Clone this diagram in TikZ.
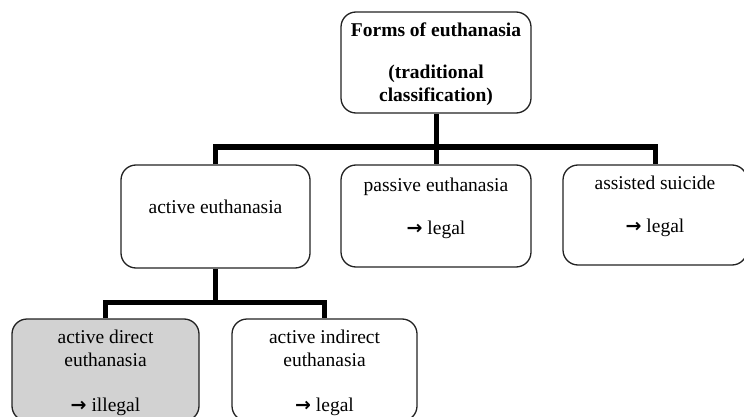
\documentclass[tikz,border=0pt]{standalone}
\usepackage{fontspec}
\setmainfont{Liberation Serif}
\newfontfamily\arrowfont{DejaVu Sans}
\usepackage{tikz}
\usetikzlibrary{positioning}
\definecolor{box-gray}{HTML}{D2D2D2}
\definecolor{box-line}{HTML}{222222}
\newcommand{\verdict}{{\arrowfont\bfseries\fontsize{9.5}{10}\selectfont →}}

\begin{document}
\begin{tikzpicture}[x=0.5pt, y=-0.5pt,
    every node/.style={font=\fontsize{9.75}{11.5}\selectfont},
    ebox/.style={draw=box-line, line width=0.65pt, rounded corners=7.5pt,
      inner sep=0pt, minimum width=#1},
    lbl/.style={align=center, inner sep=0pt},
    conn/.style={line width=2.5pt, black}]
  \useasboundingbox (0,0) rectangle (744,417);
  % Root
  \node[ebox=95pt, minimum height=50.5pt] (root) at (436,62.5) {};
  \node[lbl, below=5.6pt of root.north] (rootT)
    {\textbf{Forms of euthanasia}\\[9.5pt]\textbf{(traditional}\\\textbf{classification)}};
  % Row 1
  \node[ebox=94.5pt, minimum height=51.5pt] (act) at (215.5,216.5) {};
  \node[lbl, below=17.8pt of act.north] (actT) {active euthanasia};
  %
  \node[ebox=95pt, minimum height=51pt] (pas) at (436,216) {};
  \node[lbl, below=6.6pt of pas.north] (pasT) {passive euthanasia\\[10pt]\verdict{} legal};
  %
  \node[ebox=92pt, minimum height=50pt] (ass) at (655,215) {};
  \node[lbl, below=5.4pt of ass.north] (assT) {assisted suicide\\[10pt]\verdict{} legal};
  % Row 2
  \node[ebox=93.5pt, minimum height=51pt, fill=box-gray] (dir) at (105.5,370) {};
  \node[lbl, below=5.6pt of dir.north] (dirT) {active direct\\euthanasia\\[11pt]\verdict{} illegal};
  %
  \node[ebox=92.5pt, minimum height=51pt] (ind) at (324.5,370) {};
  \node[lbl, below=5.6pt of ind.north] (indT) {active indirect\\euthanasia\\[11pt]\verdict{} legal};
  % Connectors
  \coordinate (bar1) at (436,147);
  \coordinate (bar2) at (215.5,302);
  \draw[conn] (root.south) -- (bar1);
  \draw[conn] (act.north) |- (bar1) -| (ass.north);
  \draw[conn] (bar1) -- (pas.north);
  \draw[conn] (act.south) -- (bar2);
  \draw[conn] (dir.north) |- (bar2) -| (ind.north);
\end{tikzpicture}
\end{document}
